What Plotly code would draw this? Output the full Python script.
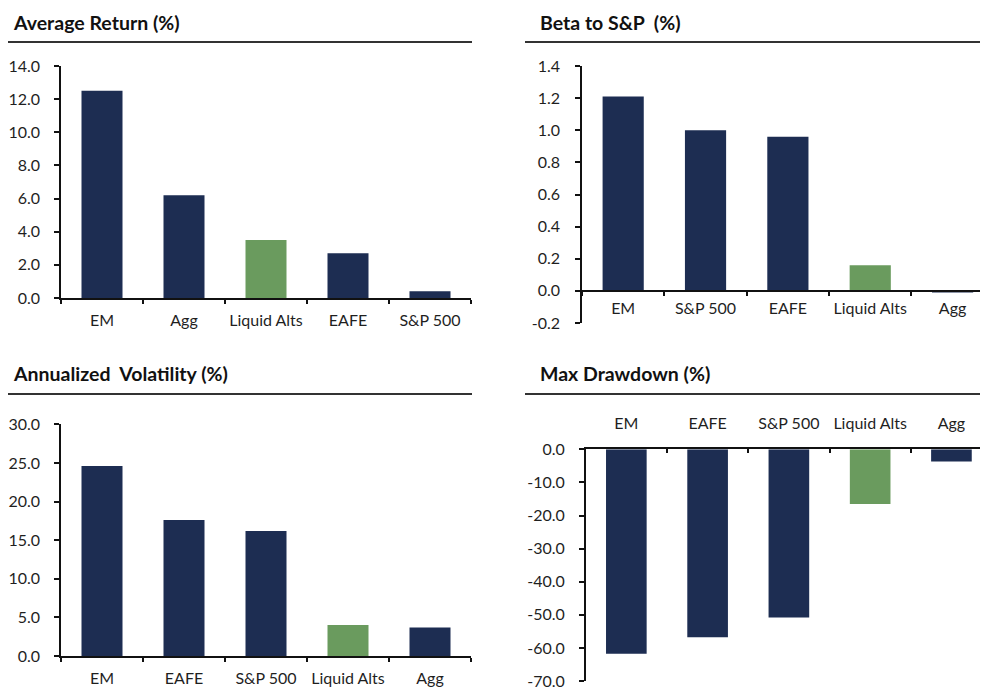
import plotly.graph_objects as go

NAVY = "#1d2d52"
GREEN = "#6a9b5e"

# ---- data ----
ret_cats = ["EM", "Agg", "Liquid Alts", "EAFE", "S&P 500"]
ret_vals = [12.5, 6.2, 3.5, 2.7, 0.4]
ret_ticks = [0, 2, 4, 6, 8, 10, 12, 14]
ret_ticktext = ["0.0", "2.0", "4.0", "6.0", "8.0", "10.0", "12.0", "14.0"]

beta_cats = ["EM", "S&P 500", "EAFE", "Liquid Alts", "Agg"]
beta_vals = [1.21, 1.00, 0.96, 0.16, -0.01]
beta_ticks = [-0.2, 0, 0.2, 0.4, 0.6, 0.8, 1.0, 1.2, 1.4]
beta_ticktext = ["-0.2", "0.0", "0.2", "0.4", "0.6", "0.8", "1.0", "1.2", "1.4"]

vol_cats = ["EM", "EAFE", "S&P 500", "Liquid Alts", "Agg"]
vol_vals = [24.6, 17.6, 16.2, 4.0, 3.7]
vol_ticks = [0, 5, 10, 15, 20, 25, 30]
vol_ticktext = ["0.0", "5.0", "10.0", "15.0", "20.0", "25.0", "30.0"]

dd_cats = ["EM", "EAFE", "S&P 500", "Liquid Alts", "Agg"]
dd_vals = [-61.8, -56.8, -50.8, -16.5, -3.7]
dd_ticks = [-70, -60, -50, -40, -30, -20, -10, 0]
dd_ticktext = ["-70.0", "-60.0", "-50.0", "-40.0", "-30.0", "-20.0", "-10.0", "0.0"]

titles = ["Average Return (%)", "Beta to S&P  (%)",
          "Annualized  Volatility (%)", "Max Drawdown (%)"]

# the page places the figure 8px from the top-left corner
OFF = 8
W, H = 988 - OFF, 687 - OFF
FONT = "Lato"


def px_x(p):
    return min(1.0, max(0.0, (p - OFF) / W))


def px_y(p):
    return min(1.0, max(0.0, 1 - (p - OFF) / H))


def colors(cats):
    return [GREEN if c == "Liquid Alts" else NAVY for c in cats]


fig = go.Figure()
panels = [
    (ret_cats, ret_vals, "x", "y"),
    (beta_cats, beta_vals, "x2", "y2"),
    (vol_cats, vol_vals, "x3", "y3"),
    (dd_cats, dd_vals, "x4", "y4"),
]
for cats, vals, xa, ya in panels:
    fig.add_trace(go.Bar(x=cats, y=vals, xaxis=xa, yaxis=ya,
                         marker=dict(color=colors(cats), line=dict(width=0)),
                         width=0.5, showlegend=False, hoverinfo="x+y"))

tickfont = dict(family=FONT, size=16, color="#1f1f1f")
axline = dict(showline=True, linecolor="#111", linewidth=1.5,
              showgrid=False, zeroline=False, tickcolor="#111",
              tickwidth=1.5, tickfont=tickfont, fixedrange=True,
              automargin=False, ticklabeloverflow="allow")

xcat = dict(axline, type="category", ticks="outside", ticklen=4,
            tickson="boundaries", tickangle=0, ticklabelstandoff=7)
yval = dict(axline, ticks="outside", ticklen=5, ticklabelstandoff=11)

# panel 1
fig.update_layout(
    xaxis=dict(xcat, domain=[px_x(61), px_x(471)], anchor="y",
               range=[-0.5, 4.5]),
    yaxis=dict(yval, domain=[px_y(298), px_y(66)], anchor="x",
               range=[0, 14], tickvals=ret_ticks, ticktext=ret_ticktext),
)
# panel 2 : x axis crossing at zero
b_top, b_bot = px_y(66), px_y(323)
zero_pos = b_bot + (0 - (-0.2)) / 1.6 * (b_top - b_bot)
fig.update_layout(
    xaxis2=dict(xcat, domain=[px_x(582), 1.0], anchor="free",
                position=zero_pos, range=[-0.5, 4.43], ticklabelstandoff=3),
    yaxis2=dict(yval, domain=[b_bot, b_top], anchor="x2",
                range=[-0.2, 1.4], tickvals=beta_ticks,
                ticktext=beta_ticktext, ticklabelstandoff=12),
)
# panel 3
fig.update_layout(
    xaxis3=dict(xcat, domain=[px_x(61), px_x(471)], anchor="y3",
                range=[-0.5, 4.5]),
    yaxis3=dict(yval, domain=[px_y(656), px_y(424.3)], anchor="x3",
                range=[0, 30], tickvals=vol_ticks, ticktext=vol_ticktext),
)
# panel 4 : categories on top
fig.update_layout(
    xaxis4=dict(xcat, domain=[px_x(585.7), 1.0], anchor="y4", side="top",
                range=[-0.5, 4.45], ticks="inside", ticklabelstandoff=12),
    yaxis4=dict(yval, domain=[px_y(681), px_y(449.3)], anchor="x4",
                range=[-70, 0], tickvals=dd_ticks, ticktext=dd_ticktext),
)

# titles and rules
title_pos = [(11, 22), (538, 22), (11, 373), (538, 373)]
rule_pos = [(0, 472, 42), (525, 988, 42), (0, 472, 394), (525, 988, 394)]
for t, (tx, ty) in zip(titles, title_pos):
    fig.add_annotation(text="<b>" + t + "</b>", xref="paper", yref="paper",
                       x=px_x(tx), y=px_y(ty), xanchor="left", yanchor="middle",
                       showarrow=False,
                       font=dict(family=FONT, size=19.5, color="#111"))
for x0, x1, yy in rule_pos:
    fig.add_shape(type="line", xref="paper", yref="paper",
                  x0=px_x(x0), x1=px_x(x1), y0=px_y(yy), y1=px_y(yy),
                  line=dict(color="#333", width=2))

fig.update_layout(width=W, height=H, margin=dict(l=0, r=0, t=0, b=0),
                  plot_bgcolor="white", paper_bgcolor="white",
                  bargap=0.5, font=dict(family=FONT))

fig.write_html("out.html")
